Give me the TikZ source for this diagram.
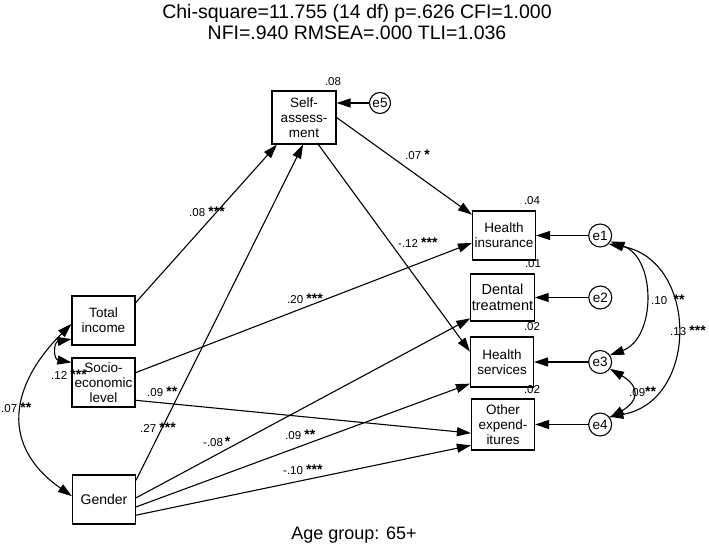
\documentclass[tikz,border=0pt]{standalone}
\usepackage{fontspec}
\setmainfont{Liberation Sans}
\usetikzlibrary{positioning,arrows.meta}
\newcommand{\sig}[1]{{\fontsize{14}{14}\selectfont\bfseries #1}}

\begin{document}
\begin{tikzpicture}[
        x=1pt, y=1pt,
        var/.style={
            rectangle,
            draw,
            line width=1.2pt,
            align=center,
            minimum width=63pt,
            minimum height=49pt,
            inner sep=1pt,
            font=\fontsize{13.5}{15}\selectfont
        },
        err/.style={
            circle,
            draw,
            line width=1.1pt,
            minimum size=23pt,
            inner sep=0pt,
            font=\fontsize{13.5}{15}\selectfont
        },
        regarrow/.style={
            -{Triangle[length=14pt,width=9pt]},
            line width=1.1pt
        },
        cov/.style={
            {Triangle[length=14pt,width=9pt]}-{Triangle[length=14pt,width=9pt]},
            line width=1.1pt
        },
        coef/.style={
            inner sep=0pt,
            anchor=west,
            font=\fontsize{11.5}{12}\selectfont
        },
        rsq/.style={
            inner sep=0pt,
            font=\fontsize{11.5}{12}\selectfont
        }
    ]
        \useasboundingbox (0,0) rectangle (709,-548);

        \node[font=\fontsize{19.5}{21}\selectfont, align=center] (title) at (357,-22.5)
            {Chi-square=11.755 (14 df) p=.626 CFI=1.000\\NFI=.940 RMSEA=.000 TLI=1.036};

        % observed variables
        \node[var, minimum width=64pt, minimum height=53pt] (sa) at (304,-117.5) {Self-\\assess-\\ment};
        \node[var] (hins) at (504,-235.5) {Health\\insurance};
        \node[var, minimum height=47pt, font=\fontsize{14.5}{16}\selectfont] (dent) at (502.5,-297.5) {Dental\\treatment};
        \node[var, minimum height=50pt] (hser) at (502,-362) {Health\\services};
        \node[var, minimum height=51pt] (oth) at (503,-424.5) {Other\\expend-\\itures};
        \node[var] (ti) at (103.5,-320.5) {Total\\income};
        \node[var] (ses) at (103.5,-382.5) {Socio-\\economic\\level};
        \node[var, font=\fontsize{14}{16}\selectfont] (gen) at (104,-499.5) {Gender};

        % error terms
        \node[err, minimum size=21pt] (e5) at (380,-103) {e5};
        \node[err, right=52pt of hins] (e1) {e1};
        \node[err, right=53.5pt of dent] (e2) {e2};
        \node[err, right=54pt of hser] (e3) {e3};
        \node[err, right=53pt of oth] (e4) {e4};

        % squared multiple correlations
        \node[rsq] (r-sa) at (333,-82) {.08};
        \node[rsq] (r-hins) at (532,-201) {.04};
        \node[rsq] (r-dent) at (533,-264) {.01};
        \node[rsq] (r-hser) at (532,-327) {.02};
        \node[rsq] (r-oth) at (532,-390) {.02};

        % regression paths
        \draw[regarrow] (ti.29) -- (sa.225);
        \draw[regarrow] (gen.31) -- (sa.268);
        \draw[regarrow] (sa.east) -- (hins.147);
        \draw[regarrow] (sa.-62) -- (hser.162);
        \draw[regarrow] (ses.17) -- (hins.193);
        \draw[regarrow] (ses.-29) -- (oth.195);
        \draw[regarrow] (gen.3) -- (dent.213);
        \draw[regarrow] (gen.-13) -- (hser.214);
        \draw[regarrow] (gen.-26) -- (oth.213);

        \draw[regarrow] (e5) -- (e5 -| sa.east);
        \draw[regarrow] (e1) -- (e1 -| hins.east);
        \draw[regarrow] (e2) -- (e2 -| dent.east);
        \draw[regarrow] (e3) -- (e3 -| hser.east);
        \draw[regarrow] (e4) -- (e4 -| oth.east);

        % covariances
        \draw[cov] (ti.210) to[out=190, in=170, looseness=2] (ses.148);
        \draw[cov] (ti.186) to[out=225, in=145, looseness=1.3] (gen.174);
        \draw[cov] (e1.-30) to[out=-20, in=20, looseness=1.1] (e3.35);
        \draw[cov] (e1.-45) to[out=-10, in=10, looseness=1.35] (e4.40);
        \draw[cov] (e3.-35) to[out=-30, in=30, looseness=1.8] (e4.35);

        % estimates
        \node[coef] (c-ti-sa) at (189,-212) {.08 \sig{***}};
        \node[coef] (c-sa-hins) at (405,-155) {.07 \sig{*}};
        \node[coef] (c-sa-hser) at (398,-243) {-.12 \sig{***}};
        \node[coef] (c-ses-hins) at (287,-299) {.20 \sig{***}};
        \node[coef] (c-ses-oth) at (147,-392) {.09 \sig{**}};
        \node[coef] (c-gen-sa) at (140,-428) {.27 \sig{***}};
        \node[coef] (c-gen-dent) at (203,-442) {-.08\,\sig{*}};
        \node[coef] (c-gen-hser) at (285,-435) {.09 \sig{**}};
        \node[coef] (c-gen-oth) at (283,-470) {-.10 \sig{***}};
        \node[coef] (c-ti-ses) at (51,-375) {.12 \sig{***}};
        \node[coef] (c-ti-gen) at (1,-408) {.07 \sig{**}};
        \node[coef] (c-e1-e3) at (651,-300) {.10 \ \sig{**}};
        \node[coef] (c-e1-e4) at (670,-331) {.13 \sig{***}};
        \node[coef] (c-e3-e4) at (629,-392) {.09\sig{**}};

        \node[font=\fontsize{18}{20}\selectfont] (grp) at (354,-535) {Age group: 65+};
    \end{tikzpicture}
\end{document}
